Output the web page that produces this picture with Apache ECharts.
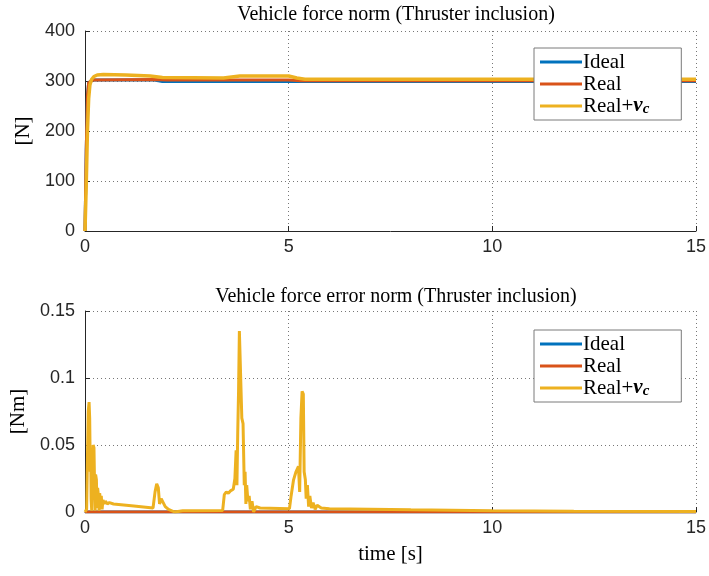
<!DOCTYPE html>
<html>
<head>
<meta charset="utf-8">
<script src="https://cdn.jsdelivr.net/npm/echarts@6/dist/echarts.min.js"></script>
<style>html,body{margin:0;padding:0;background:#fff;}#c{width:709px;height:576px;}</style>
</head>
<body>
<div id="c"></div>
<script>
// ---------- data ----------
const seriesNames = ['Ideal', 'Real', 'Real+νc'];
const xTicks = [0, 5, 10, 15];
const forceTicks = [0, 100, 200, 300, 400];
const errTicks = [0, 0.05, 0.1, 0.15];

// Top: vehicle force norm [N]
const forceIdealT = [0, 0.03, 0.06, 0.09, 0.12, 0.2, 1.7, 1.9, 5.0, 15];
const forceIdeal  = [0, 160, 270, 297, 301, 302, 302, 299, 299, 299];
const forceRealT  = [0, 0.03, 0.06, 0.09, 0.12, 0.2, 1.7, 2.0, 5.0, 5.3, 15];
const forceReal   = [0, 160, 270, 297, 301, 302, 303, 302, 302, 300.5, 300.5];
const forceNuT    = [0, 0.03, 0.06, 0.09, 0.12, 0.16, 0.22, 0.3, 0.45, 1.0, 1.6, 1.9, 3.4, 3.6, 3.8, 5.0, 5.2, 5.4, 15];
const forceNu     = [0, 90, 200, 265, 292, 303, 309, 312, 313, 312, 310, 307, 306, 308, 310, 310, 306, 303.5, 303.5];

// Bottom: vehicle force error norm [Nm]
const errIdealT = [0, 15];
const errIdeal  = [0, 0];
const errRealT  = [0, 15];
const errReal   = [0, 0];
const errNuT = [0, 0.04, 0.06, 0.08, 0.1, 0.115, 0.13, 0.14, 0.15, 0.165, 0.18, 0.2, 0.22, 0.235, 0.25, 0.26, 0.28, 0.295, 0.31, 0.33, 0.345, 0.36, 0.38, 0.4, 0.42, 0.44, 0.47, 0.5, 0.55, 0.6, 0.7, 1.2, 1.67, 1.72, 1.76, 1.8, 1.83, 1.87, 1.92, 1.97, 2.05, 2.2, 2.4, 3.38, 3.42, 3.47, 3.52, 3.58, 3.64, 3.68, 3.71, 3.73, 3.75, 3.77, 3.79, 3.83, 3.85, 3.88, 3.91, 3.93, 3.95, 3.97, 4.0, 4.03, 4.06, 4.1, 4.14, 4.2, 4.3, 5.02, 5.06, 5.12, 5.18, 5.24, 5.27, 5.3, 5.33, 5.36, 5.38, 5.41, 5.43, 5.46, 5.49, 5.52, 5.56, 5.6, 5.65, 5.7, 5.8, 6.0, 8, 10, 12, 15];
const errNu  = [0, 0.002, 0.04, 0.075, 0.082, 0.07, 0.03, 0.045, 0.01, 0.001, 0.03, 0.05, 0.048, 0.02, 0.001, 0.028, 0.024, 0.003, 0.018, 0.012, 0.001, 0.014, 0.008, 0.012, 0.002, 0.009, 0.006, 0.008, 0.006, 0.007, 0.006, 0.0045, 0.003, 0.015, 0.021, 0.018, 0.006, 0.01, 0.007, 0.004, 0.002, 0.0, 0.001, 0.0012, 0.013, 0.015, 0.014, 0.016, 0.017, 0.025, 0.046, 0.02, 0.06, 0.09, 0.135, 0.134, 0.07, 0.066, 0.02, 0.03, 0.006, 0.02, 0.008, 0.012, 0.002, 0.008, 0.0, 0.004, 0.003, 0.0025, 0.012, 0.024, 0.03, 0.034, 0.015, 0.07, 0.09, 0.088, 0.03, 0.024, 0.01, 0.02, 0.004, 0.012, 0.003, 0.007, 0.002, 0.005, 0.003, 0.0025, 0.0016, 0.001, 0.0006, 0.0003];

// ---------- styling ----------
const colors = ['#0072BD', '#D95319', '#EDB120'];
const axisColor = '#262626';
const serif = "'Liberation Serif', 'Times New Roman', serif";
const sans = "'Liberation Sans', Arial, sans-serif";

function pairs(t, v) { return t.map((x, i) => [x, v[i]]); }

function xAxisCfg(gi, withName) {
  const c = {
    gridIndex: gi, type: 'value', min: xTicks[0], max: xTicks[xTicks.length - 1], interval: 5,
    axisLine: { show: true, onZero: false, lineStyle: { color: axisColor, width: 1 } },
    axisTick: { show: true, inside: true, length: 5, lineStyle: { color: axisColor } },
    axisLabel: { color: axisColor, fontSize: 18, fontFamily: sans, margin: 7 },
    splitLine: { show: true, lineStyle: { color: '#777', type: [1, 3], width: 1 } }
  };
  if (withName) {
    c.name = 'time [s]'; c.nameLocation = 'middle'; c.nameGap = 32;
    c.nameTextStyle = { fontFamily: serif, fontSize: 21, color: '#000' };
  }
  return c;
}
function yAxisCfg(gi, ticks, name, interval) {
  return {
    gridIndex: gi, type: 'value', min: ticks[0], max: ticks[ticks.length - 1], interval: interval,
    name: name, nameLocation: 'middle', nameGap: 50, nameRotate: 90,
    nameTextStyle: { fontFamily: serif, fontSize: 21, color: '#000' },
    axisLine: { show: true, onZero: false, lineStyle: { color: axisColor, width: 1 } },
    axisTick: { show: true, inside: true, length: 5, lineStyle: { color: axisColor } },
    axisLabel: { color: axisColor, fontSize: 18, fontFamily: sans, margin: 10 },
    splitLine: { show: true, lineStyle: { color: '#777', type: [1, 3], width: 1 } }
  };
}
function legendCfg(top) {
  return {
    orient: 'vertical', left: 534, top: top, data: seriesNames,
    backgroundColor: '#fff', borderColor: '#7a7a7a', borderWidth: 1, borderRadius: 0,
    padding: [3, 32, 3, 6], itemWidth: 42, itemHeight: 3, itemGap: 0, icon: 'rect',
    z: 10,
    textStyle: { fontFamily: serif, fontSize: 21, lineHeight: 22, color: '#000', padding: [0, 0, 0, -4],
      rich: {
        a: { fontFamily: serif, fontSize: 21, color: '#000' },
        b: { fontFamily: serif, fontSize: 21, fontStyle: 'italic', fontWeight: 'bold', color: '#000' },
        c: { fontFamily: serif, fontSize: 15, fontStyle: 'italic', fontWeight: 'bold', color: '#000', verticalAlign: 'bottom', padding: [8, 0, 0, 0] }
      } },
    formatter: function (n) { return n === 'Real+νc' ? '{a|Real+}{b|ν}{c|c}' : n; }
  };
}
function lineSeries(name, gi, t, v, ci, w) {
  return {
    name: name, type: 'line', xAxisIndex: gi, yAxisIndex: gi, data: pairs(t, v),
    showSymbol: false, symbol: 'none', color: colors[ci], clip: true,
    lineStyle: { color: colors[ci], width: w }, animation: false
  };
}

const chart = echarts.init(document.getElementById('c'), null, { renderer: 'canvas' });
chart.setOption({
  animation: false,
  backgroundColor: '#fff',
  title: [
    { text: 'Vehicle force norm (Thruster inclusion)', left: 391, top: 0, textAlign: 'center',
      textStyle: { fontFamily: serif, fontSize: 20, fontWeight: 'normal', color: '#000' } },
    { text: 'Vehicle force error norm (Thruster inclusion)', left: 391, top: 282, textAlign: 'center',
      textStyle: { fontFamily: serif, fontSize: 20, fontWeight: 'normal', color: '#000' } }
  ],
  grid: [
    { left: 85, top: 31, width: 613, height: 200 },
    { left: 85, top: 311, width: 613, height: 201 }
  ],
  xAxis: [xAxisCfg(0, false), xAxisCfg(1, true)],
  yAxis: [yAxisCfg(0, forceTicks, '[N]', 100), yAxisCfg(1, errTicks, '[Nm]', 0.05)],
  legend: [legendCfg(48), legendCfg(330)],
  series: [
    lineSeries(seriesNames[0], 0, forceIdealT, forceIdeal, 0, 3),
    lineSeries(seriesNames[1], 0, forceRealT, forceReal, 1, 3),
    lineSeries(seriesNames[2], 0, forceNuT, forceNu, 2, 3.5),
    lineSeries(seriesNames[0], 1, errIdealT, errIdeal, 0, 3),
    lineSeries(seriesNames[1], 1, errRealT, errReal, 1, 3),
    lineSeries(seriesNames[2], 1, errNuT, errNu, 2, 3)
  ]
});
</script>
</body>
</html>
